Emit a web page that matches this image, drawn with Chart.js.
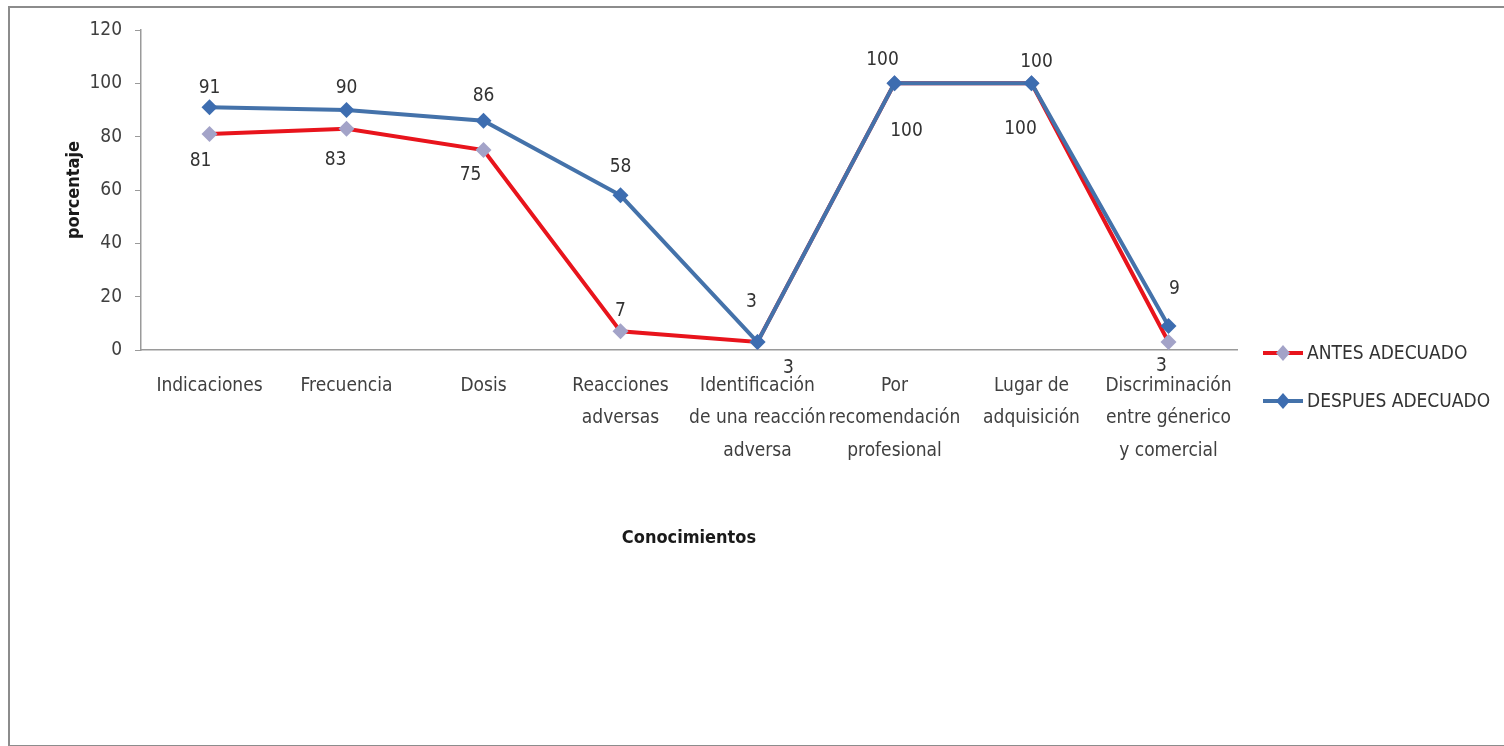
<!DOCTYPE html>
<html>
<head>
<meta charset="utf-8">
<script src="https://cdn.jsdelivr.net/npm/chart.js@4.4.0/dist/chart.umd.min.js"></script>
<style>
  html, body { margin: 0; padding: 0; background: #fff; overflow: hidden; }
  #wrap { position: absolute; left: 0; top: 0; width: 1504px; height: 746px; }
  #frame { position: absolute; left: 8px; top: 6px; width: 1500px; height: 737px; border: 2px solid #8c8c8c; pointer-events: none; }
</style>
</head>
<body>
<div id="wrap"><canvas id="c"></canvas></div>
<div id="frame"></div>
<script>
const categories = [
  ["Indicaciones"],
  ["Frecuencia"],
  ["Dosis"],
  ["Reacciones", "adversas"],
  ["Identificación", "de una reacción", "adversa"],
  ["Por", "recomendación", "profesional"],
  ["Lugar de", "adquisición"],
  ["Discriminación", "entre génerico", "y comercial"]
];
const antesValues = [81, 83, 75, 7, 3, 100, 100, 3];
const despuesValues = [91, 90, 86, 58, 3, 100, 100, 9];
const seriesNames = ["ANTES ADECUADO", "DESPUES ADECUADO"];
const yTicks = [0, 20, 40, 60, 80, 100, 120];

const FONT = "'Liberation Sans Narrow', 'DejaVu Sans Condensed', 'Liberation Sans', sans-serif";
const FS = 19;
const RED = '#e8141c';
const BLUE = '#4472aa';
const RED_MARK = '#a3a3c8';
const BLUE_MARK = '#3d6db0';

// label placement (style): offsets from the point, in px
const labelOffsets = [
  { dx: [-9, -11, -13, 0, 31, 12, -11, -7], dy: [27, 31, 25, -20, 26, 48, 46, 24] },
  { dx: [0, 0, 0, 0, -6, -12, 5, 6], dy: [-19, -22, -25, -28, -40, -23, -21, -37] }
];

const dataLabelPlugin = {
  id: 'dataLabels',
  afterDatasetsDraw(chart) {
    const ctx = chart.ctx;
    ctx.save();
    ctx.font = FS + 'px ' + FONT;
    ctx.fillStyle = '#333333';
    ctx.textAlign = 'center';
    ctx.textBaseline = 'middle';
    chart.data.datasets.forEach((ds, di) => {
      const meta = chart.getDatasetMeta(di);
      meta.data.forEach((pt, i) => {
        const o = labelOffsets[di];
        ctx.fillText(String(ds.data[i]), pt.x + o.dx[i], pt.y + o.dy[i]);
      });
    });
    ctx.restore();
  }
};

const legendPlugin = {
  id: 'customLegend',
  afterDraw(chart) {
    const ctx = chart.ctx;
    ctx.save();
    const x0 = 1263, rows = [353, 401];
    chart.data.datasets.forEach((ds, di) => {
      const y = rows[di];
      ctx.strokeStyle = ds.borderColor;
      ctx.lineWidth = 4;
      ctx.beginPath();
      ctx.moveTo(x0, y);
      ctx.lineTo(x0 + 40, y);
      ctx.stroke();
      ctx.fillStyle = ds.pointBackgroundColor;
      ctx.beginPath();
      ctx.moveTo(x0 + 20, y - 8);
      ctx.lineTo(x0 + 27, y);
      ctx.lineTo(x0 + 20, y + 8);
      ctx.lineTo(x0 + 13, y);
      ctx.closePath();
      ctx.fill();
      ctx.font = FS + 'px ' + FONT;
      ctx.fillStyle = '#333333';
      ctx.textAlign = 'left';
      ctx.textBaseline = 'middle';
      ctx.fillText(ds.label, x0 + 44, y + 1);
    });
    ctx.restore();
  }
};

new Chart(document.getElementById('c'), {
  type: 'line',
  data: {
    labels: categories,
    datasets: [
      {
        label: seriesNames[0],
        data: antesValues,
        borderColor: RED,
        backgroundColor: RED,
        borderWidth: 4,
        pointStyle: 'rectRot',
        pointRadius: 8,
        pointBackgroundColor: RED_MARK,
        pointBorderColor: RED_MARK,
        pointBorderWidth: 0,
        tension: 0,
        order: 2
      },
      {
        label: seriesNames[1],
        data: despuesValues,
        borderColor: BLUE,
        backgroundColor: BLUE,
        borderWidth: 4,
        pointStyle: 'rectRot',
        pointRadius: 8,
        pointBackgroundColor: BLUE_MARK,
        pointBorderColor: BLUE_MARK,
        pointBorderWidth: 0,
        tension: 0,
        order: 1
      }
    ]
  },
  options: {
    responsive: true,
    maintainAspectRatio: false,
    animation: false,
    layout: { padding: { left: 60, right: 267, top: 30, bottom: 0 } },
    plugins: {
      legend: { display: false },
      tooltip: { enabled: false }
    },
    scales: {
      x: {
        type: 'category',
        offset: true,
        grid: { display: true, drawOnChartArea: false, drawTicks: false },
        border: { display: true, color: '#9a9a9a', width: 1.5 },
        ticks: {
          color: '#404040',
          font: { family: FONT, size: FS, lineHeight: 1.7 },
          padding: 20,
          maxRotation: 0,
          autoSkip: false
        },
        title: {
          display: true,
          text: 'Conocimientos',
          color: '#1a1a1a',
          font: { family: FONT, size: 18, weight: 'bold' },
          padding: { top: 0, bottom: 197 }
        },
        afterFit(scale) { scale.height = 396; }
      },
      y: {
        min: 0,
        max: 120,
        afterBuildTicks(scale) { scale.ticks = yTicks.map(v => ({ value: v })); },
        grid: { display: true, drawOnChartArea: false, drawTicks: true, tickLength: 6, color: '#9a9a9a' },
        border: { display: true, color: '#9a9a9a', width: 1.5 },
        ticks: {
          color: '#404040',
          font: { family: FONT, size: FS },
          padding: 13
        },
        title: {
          display: true,
          text: 'porcentaje',
          color: '#1a1a1a',
          font: { family: FONT, size: 18, weight: 'bold' },
          padding: { top: 4, bottom: 0 }
        },
        afterFit(scale) { scale.width = 81; }
      }
    }
  },
  plugins: [dataLabelPlugin, legendPlugin]
});
</script>
</body>
</html>
